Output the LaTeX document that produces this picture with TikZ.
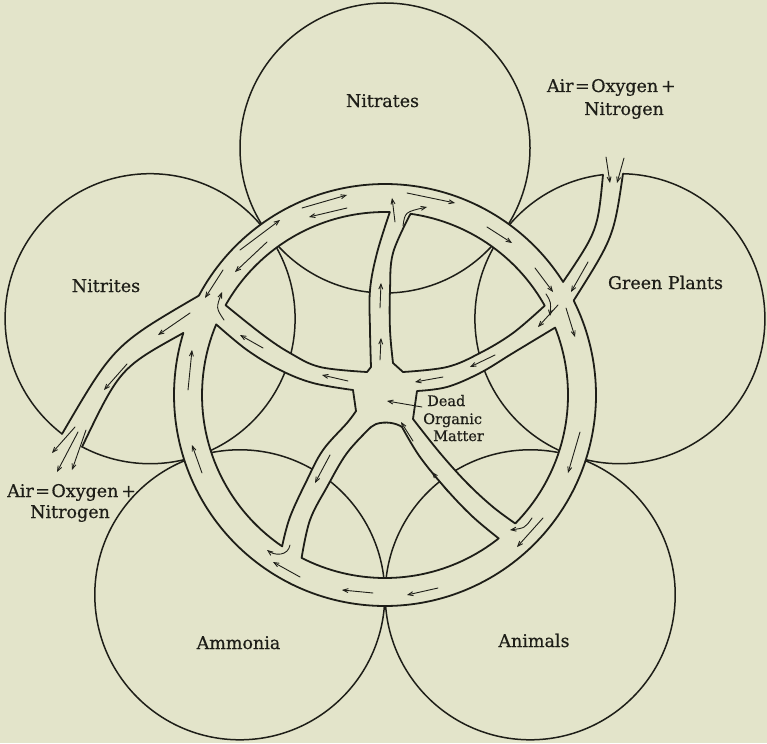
\documentclass[tikz,border=0pt]{standalone}
\usepackage{fontspec}
\setmainfont[FakeBold=0.5]{DejaVu Serif}
\usetikzlibrary{arrows.meta}
\definecolor{paper}{RGB}{227,228,202}
\definecolor{ink}{RGB}{30,30,24}
\tikzset{
 circ/.style={draw=ink, line width=1.5pt},
 chan/.style={draw=ink, line width=1.8pt, line join=round, line cap=round},
 arr/.style={draw=ink, line width=0.9pt, line cap=round, -{Straight Barb[length=5pt,width=4pt]}},
 lbl/.style={inner sep=0pt, anchor=base, font=\fontsize{17.5}{20}\selectfont, text=ink},
 air/.style={inner sep=0pt, font=\fontsize{17.5}{20}\selectfont, text=ink},
 small/.style={inner sep=0pt, anchor=base west, font=\fontsize{14.5}{17}\selectfont, text=ink},
}
\newcommand\bigcircles{
 \draw[circ] (385,148) circle[radius=145];
 \draw[circ] (619.9,318.7) circle[radius=145];
 \draw[circ] (530.2,594.8) circle[radius=145];
 \draw[circ] (239.8,594.8) circle[radius=145];
 \draw[circ] (150.1,318.7) circle[radius=145];
}
\newcommand\cellpaths{
 plot[domain=-150.6:-88.5,samples=40] ({385+183*cos(\x)},{395+183*sin(\x)})
 -- plot[smooth,tension=0.6] coordinates {(389.8,212.1) (377,253) (370,290) (370,330) (371,367)}
 -- (367,372)
 -- plot[smooth,tension=0.6] coordinates {(367,372) (320,367) (290,353) (263,335) (225.6,305.2)}
 -- cycle
 plot[domain=-82:-29.2,samples=40] ({385+183*cos(\x)},{395+183*sin(\x)})
 -- plot[smooth,tension=0.6] coordinates {(544.7,305.7) (513,333) (480,353) (447,367) (403,372)}
 -- (393,363)
 -- plot[smooth,tension=0.6] coordinates {(393,363) (390,330) (390,290) (393,253) (410.5,213.8)}
 -- cycle
 plot[domain=-21.6:44.6,samples=40] ({385+183*cos(\x)},{395+183*sin(\x)})
 -- plot[smooth,tension=0.6] coordinates {(515.3,523.5) (493,507) (467,483) (440,453) (413,419)}
 -- (417,391)
 -- plot[smooth,tension=0.6] coordinates {(417,391) (447,387) (480,373) (513,353) (555.1,327.6)}
 -- cycle
 plot[domain=51.6:117.1,samples=40] ({385+183*cos(\x)},{395+183*sin(\x)})
 -- plot[smooth,tension=0.6] coordinates {(301.6,557.9) (310,520) (327,487) (347,453) (371,427)}
 -- (376,424) .. controls (386,421) and (396,423) .. (402,427)
 -- plot[smooth,tension=0.6] coordinates {(402,427) (420,457) (447,490) (473,517) (498.7,538.4)}
 -- cycle
 plot[domain=124.2:202.7,samples=40] ({385+183*cos(\x)},{395+183*sin(\x)})
 -- plot[smooth,tension=0.6] coordinates {(216.2,324.4) (247,350) (280,370) (313,383) (353,390)}
 -- (356,411)
 -- plot[smooth,tension=0.6] coordinates {(356,411) (347,423) (323,450) (307,480) (290,517) (282.1,546.4)}
 -- cycle
}
\newcommand\airtext{Air\hspace{1.5pt}=\hspace{1.5pt}Oxygen\hspace{3pt}+}
\begin{document}
\begin{tikzpicture}[x=1pt,y=-1pt]
\fill[paper] (0,0) rectangle (767,743);
\useasboundingbox (0,0) rectangle (767,743);
% the five big circles
\bigcircles
% channels erase what lies under them
\fill[paper] (385,395) circle[radius=211];
\fill[paper] (198.9,295.6) .. controls (113.9,345.1) .. (62,434) -- (59.5,438.5) -- (79.8,451.5) -- (82,447) .. controls (120,368) .. (183.3,333) -- cycle;
\fill[paper] (563.1,281.9) .. controls (597.7,230.5) .. (603,174.7) -- (603.5,169) -- (622.5,169) -- (623,173.7) .. controls (613.7,237) .. (573.7,300.5) -- cycle;
% circles seen inside the cells
\begin{scope}
\clip \cellpaths;
\bigcircles
\end{scope}
% channel outlines
\draw[chan] \cellpaths;
\draw[chan] plot[domain=-26.6:197.1,samples=150] ({385+211*cos(\x)},{395+211*sin(\x)});
\draw[chan] plot[domain=208.1:327.6,samples=80] ({385+211*cos(\x)},{395+211*sin(\x)});
\draw[chan] (198.9,295.6) .. controls (113.9,345.1) .. (62,434);
\draw[chan] (183.3,333) .. controls (120,368) .. (82,447);
\draw[chan] (563.1,281.9) .. controls (597.7,230.5) .. (603,174.7);
\draw[chan] (573.7,300.5) .. controls (613.7,237) .. (623,173.7);
% arrows in the ring
\draw[arr] (302,208) -- (347,195);
\draw[arr] (347,208) -- (309,217);
\draw[arr] (407,193) -- (455,203);
\draw[arr] (487,227) -- (512,243);
\draw[arr] (535,268) -- (553,292);
\draw[arr] (240,250) -- (280,220);
\draw[arr] (267,242) -- (235,272);
\draw[arr] (223,270) -- (205,298);
\draw[arr] (188,390) -- (192,350);
\draw[arr] (202,473) -- (192,445);
\draw[arr] (300,577) -- (273,562);
\draw[arr] (373,593) -- (342,590);
\draw[arr] (438,588) -- (407,595);
\draw[arr] (543,518) -- (517,547);
\draw[arr] (580,432) -- (568,473);
% arrows in the spokes
\draw[arr] (380,308) -- (381,283);
\draw[arr] (380,360) -- (381,338);
\draw[arr] (263,348) -- (240,335);
\draw[arr] (348,381) -- (322,375);
\draw[arr] (495,355) -- (470,367);
\draw[arr] (443,377) -- (415,382);
\draw[arr] (413,441) -- (401,422);
\draw[arr] (448,492) -- (432,472);
\draw[arr] (330,455) -- (315,483);
% Nitrites outlet
\draw[arr] (190,313) -- (158,335);
\draw[arr] (127,364) -- (104,390);
\draw[arr] (75,427) -- (52,453);
\draw[arr] (78,432) -- (57,472);
\draw[arr] (86,430) -- (72,470);
% Green Plants inlet
\draw[arr] (606,157) -- (610,183);
\draw[arr] (624,158) -- (617,183);
\draw[arr] (588,262) -- (571,292);
\draw[arr] (558,305) -- (538,327);
\draw[arr] (566,308) -- (575,337);
% curved arrows at junctions
\draw[arr] (224,320) .. controls (216,308) .. (222,292);
\draw[arr] (290,545) .. controls (288,556) and (275,556) .. (267,550);
\draw[arr] (532,518) .. controls (525,528) .. (510,530);
\draw[arr] (395,222) .. controls (394,210) .. (392,198);
\draw[arr] (403,226) .. controls (405,212) .. (427,207);
\draw[arr] (546,294) .. controls (551,302) .. (550,316);
% labels
\node[lbl] (nitrates) at (382.5,107) {Nitrates};
\node[lbl] (nitrites) at (106,292) {Nitrites};
\node[lbl] (green) at (665.5,289) {Green Plants};
\node[lbl] (ammonia) at (238.5,649) {Ammonia};
\node[lbl] (animals) at (534,647) {Animals};
\node[air, anchor=base west] (airL1) at (7,497) {\airtext};
\node[air, anchor=base west] (airL2) at (30,518) {Nitrogen};
\node[air, anchor=base east] (airR1) at (676,92) {\airtext};
\node[air, anchor=base west] (airR2) at (584,115) {Nitrogen};
\node[small] (dead) at (427,406) {Dead};
\node[small] (organic) at (423,424) {Organic};
\node[small] (matter) at (433,441) {Matter};
\coordinate (hubc) at (387,401);
\draw[arr] (422,407) -- (hubc);
\end{tikzpicture}
\end{document}
